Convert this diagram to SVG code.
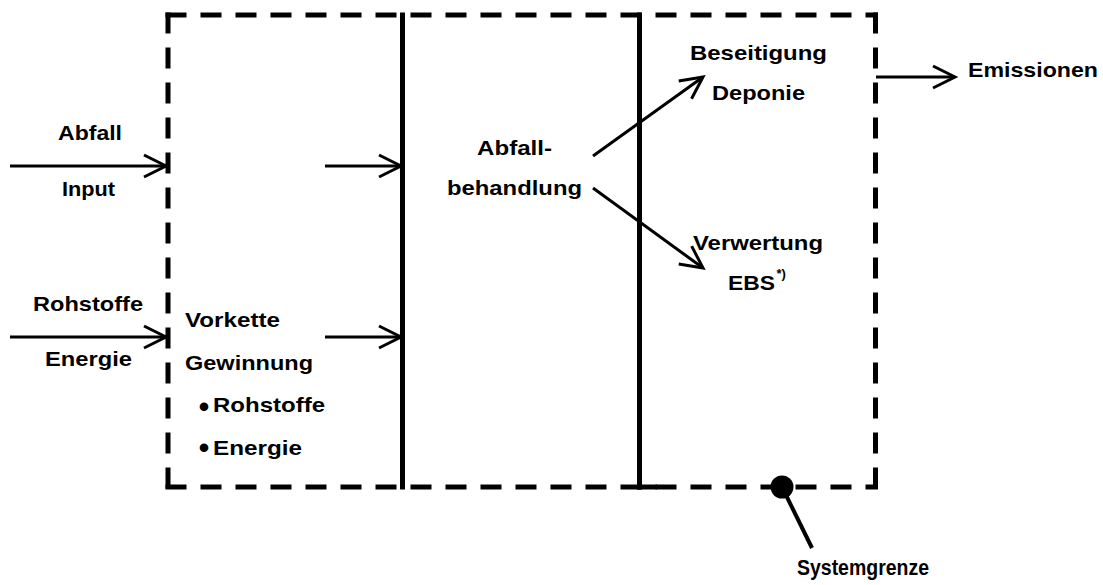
<svg xmlns="http://www.w3.org/2000/svg" width="1103" height="585" viewBox="0 0 1103 585">
<style>
text{font-family:"Liberation Sans",Arial,sans-serif;font-weight:bold;font-size:21px;fill:#000}
.c{text-anchor:middle}
.dash{stroke:#000;stroke-width:5;fill:none;stroke-dasharray:21 14}
.solid{stroke:#000;stroke-width:5;fill:none}
.arr{stroke:#000;stroke-width:3;fill:none;marker-end:url(#ah)}
.bul{font-size:30px}
</style>
<defs>
<marker id="ah" markerUnits="userSpaceOnUse" viewBox="-26 -14 30 28" refX="0" refY="0" markerWidth="30" markerHeight="28" orient="auto">
<path d="M-22,-11 L0,0 L-22,11" fill="none" stroke="#000" stroke-width="3"/>
</marker>
</defs>
<g id="systemgrenze-box">
<line class="dash" x1="165.5" y1="15" x2="878" y2="15"/>
<line class="dash" x1="168" y1="12.5" x2="168" y2="489.5"/>
<line class="dash" x1="165.5" y1="487" x2="878" y2="487"/>
<line class="dash" x1="875.5" y1="12.5" x2="875.5" y2="489.5"/>
</g>
<g id="dividers">
<line class="solid" x1="402.5" y1="12.5" x2="402.5" y2="489.5"/>
<line class="solid" x1="639.5" y1="12.5" x2="639.5" y2="489.5"/>
<line class="solid" x1="637" y1="487" x2="657" y2="487"/>
</g>
<g id="connectors">
<line class="arr" x1="10" y1="166" x2="166" y2="166"/>
<line class="arr" x1="325" y1="166" x2="401" y2="166"/>
<line class="arr" x1="10" y1="337" x2="166" y2="337"/>
<line class="arr" x1="325" y1="337" x2="401" y2="337"/>
<line class="arr" x1="593" y1="156" x2="703" y2="77"/>
<line class="arr" x1="593" y1="188" x2="703" y2="268"/>
<line class="arr" x1="876" y1="77" x2="955" y2="77"/>
</g>
<g id="input-abfall">
<text class="c" x="90" y="140" textLength="64" lengthAdjust="spacingAndGlyphs">Abfall</text>
<text class="c" x="88.5" y="196" textLength="53" lengthAdjust="spacingAndGlyphs">Input</text>
</g>
<g id="input-rohstoffe">
<text class="c" x="88" y="311" textLength="110" lengthAdjust="spacingAndGlyphs">Rohstoffe</text>
<text class="c" x="88.5" y="366" textLength="87" lengthAdjust="spacingAndGlyphs">Energie</text>
</g>
<g id="vorkette">
<text x="185" y="327" textLength="95" lengthAdjust="spacingAndGlyphs">Vorkette</text>
<text x="185" y="370" textLength="128" lengthAdjust="spacingAndGlyphs">Gewinnung</text>
<text><tspan class="bul" x="198.7" y="417.3">•</tspan><tspan x="213" y="412" textLength="112" lengthAdjust="spacingAndGlyphs">Rohstoffe</tspan></text>
<text><tspan class="bul" x="198.7" y="458">•</tspan><tspan x="213" y="455" textLength="89" lengthAdjust="spacingAndGlyphs">Energie</tspan></text>
</g>
<g id="abfallbehandlung">
<text class="c" x="514.5" y="155" textLength="75" lengthAdjust="spacingAndGlyphs">Abfall-</text>
<text class="c" x="514.5" y="195" textLength="135" lengthAdjust="spacingAndGlyphs">behandlung</text>
</g>
<g id="beseitigung">
<text class="c" x="758.5" y="60" textLength="137" lengthAdjust="spacingAndGlyphs">Beseitigung</text>
<text class="c" x="758.5" y="100" textLength="93" lengthAdjust="spacingAndGlyphs">Deponie</text>
</g>
<g id="verwertung">
<text class="c" x="758" y="250" textLength="130" lengthAdjust="spacingAndGlyphs">Verwertung</text>
<text y="290"><tspan x="728" textLength="47" lengthAdjust="spacingAndGlyphs">EBS</tspan><tspan x="776.5" y="278" style="font-size:13px">*)</tspan></text>
</g>
<g id="emissionen">
<text x="968" y="77" textLength="130" lengthAdjust="spacingAndGlyphs">Emissionen</text>
</g>
<g id="systemgrenze">
<circle cx="782" cy="487" r="11.5" fill="#000"/>
<line x1="782" y1="487" x2="812" y2="548" stroke="#000" stroke-width="4"/>
<text class="c" x="863" y="575" style="font-size:22.5px" textLength="132" lengthAdjust="spacingAndGlyphs">Systemgrenze</text>
</g>
</svg>
